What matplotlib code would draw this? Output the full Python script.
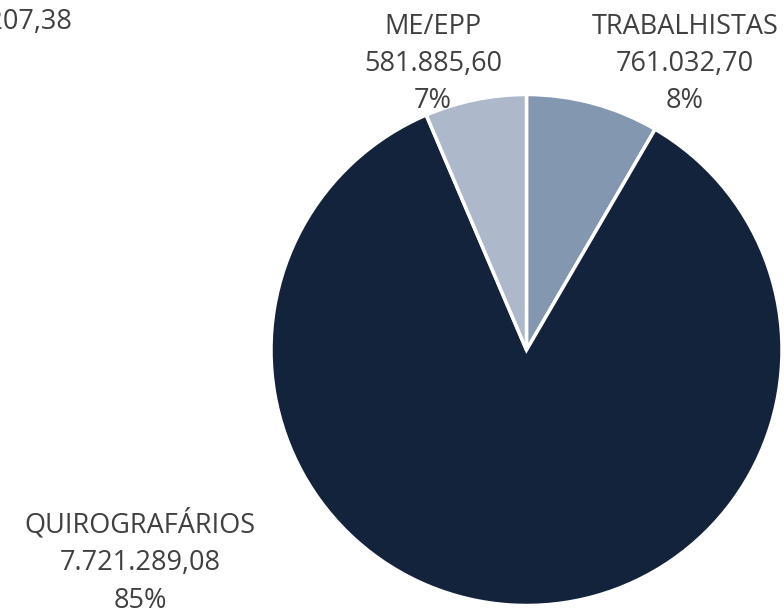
import matplotlib
matplotlib.use("Agg")
import matplotlib.pyplot as plt

# dados
categorias = ["TRABALHISTAS", "QUIROGRAFÁRIOS", "ME/EPP"]
valores = [761032.70, 7721289.08, 581885.60]
valores_txt = ["761.032,70", "7.721.289,08", "581.885,60"]
percentuais = ["8%", "85%", "7%"]
total_txt = "TOTAL: 9.064.207,38"
cores = ["#8497B0", "#14233C", "#ADB9CA"]

W, H = 784, 614
fig = plt.figure(figsize=(W / 100, H / 100), dpi=100)

cx, cy, r = 526.5, 350, 255.5
ax = fig.add_axes([(cx - r) / W, (H - cy - r) / H, 2 * r / W, 2 * r / H])
ax.pie(valores, colors=cores, startangle=90, counterclock=False, radius=1,
       wedgeprops=dict(edgecolor="white", linewidth=2.5))
ax.set_xlim(-1, 1)
ax.set_ylim(-1, 1)
ax.set_aspect("equal")
ax.axis("off")

fonte = dict(family="Open Sans", fontsize=19.5, color="#404040",
             ha="center", va="center", linespacing=1.45)

# posicoes dos rotulos em pixels (x, y do centro)
pos = [(685, 64), (140, 562), (433, 64)]
for cat, vt, pc, (x, y) in zip(categorias, valores_txt, percentuais, pos):
    fig.text(x / W, 1 - y / H, f"{cat}\n{vt}\n{pc}", **fonte)

fig.text(72 / W, 1 - 22 / H, total_txt, family="Open Sans", fontsize=19.5,
         color="#404040", ha="right", va="center")

fig.savefig("out.png", dpi=100)
